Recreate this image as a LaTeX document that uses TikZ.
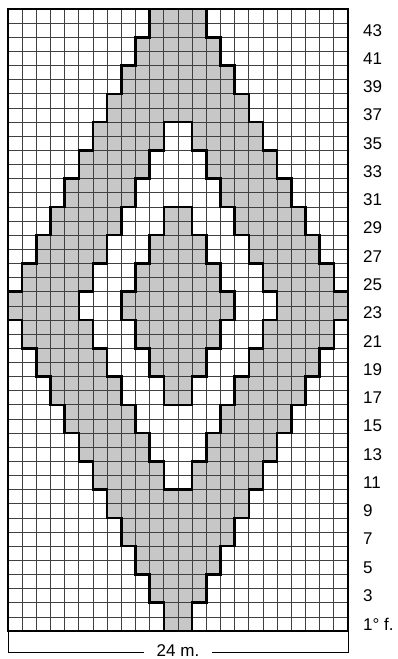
\documentclass[tikz,border=0pt]{standalone}
\usepackage{fontspec}
\setmainfont{Liberation Sans}
\begin{document}
\begin{tikzpicture}[x=14.1667pt,y=14.136pt,
  gridline/.style={draw=black!75,line width=0.7pt},
  outline/.style={draw=black,line width=2.6pt,line join=miter},
  greyfill/.style={fill=black!22},
  whitefill/.style={fill=white},
  rowlabel/.style={anchor=west,inner sep=0pt,font=\fontsize{17}{17}\selectfont},
  dimline/.style={draw=black,line width=0.9pt},
  dimtext/.style={inner xsep=13pt,inner ysep=0pt,font=\fontsize{17}{17}\selectfont}]
\useasboundingbox (-0.5647,-1.981) rectangle (27.459,44.637);
% outer diamond
\path[greyfill] (11,0) -- (13,0) -- (13,2) -- (14,2) -- (14,4) -- (15,4) -- (15,6) -- (16,6) -- (16,8) -- (17,8) -- (17,10) -- (18,10) -- (18,12) -- (19,12) -- (19,14) -- (20,14) -- (20,16) -- (21,16) -- (21,18) -- (22,18) -- (22,20) -- (23,20) -- (23,22) -- (24,22) -- (24,24)
 -- (23,24) -- (23,26) -- (22,26) -- (22,28) -- (21,28) -- (21,30) -- (20,30) -- (20,32) -- (19,32) -- (19,34) -- (18,34) -- (18,36) -- (17,36) -- (17,38) -- (16,38) -- (16,40) -- (15,40) -- (15,42) -- (14,42) -- (14,44)
 -- (10,44) -- (10,42) -- (9,42) -- (9,40) -- (8,40) -- (8,38) -- (7,38) -- (7,36) -- (6,36) -- (6,34) -- (5,34) -- (5,32) -- (4,32) -- (4,30) -- (3,30) -- (3,28) -- (2,28) -- (2,26) -- (1,26) -- (1,24) -- (0,24)
 -- (0,22) -- (1,22) -- (1,20) -- (2,20) -- (2,18) -- (3,18) -- (3,16) -- (4,16) -- (4,14) -- (5,14) -- (5,12) -- (6,12) -- (6,10) -- (7,10) -- (7,8) -- (8,8) -- (8,6) -- (9,6) -- (9,4) -- (10,4) -- (10,2) -- (11,2) -- cycle;
% white hole
\path[whitefill] (11,10) -- (13,10) -- (13,12) -- (14,12) -- (14,14) -- (15,14) -- (15,16) -- (16,16) -- (16,18) -- (17,18) -- (17,20) -- (18,20) -- (18,22) -- (19,22) -- (19,24) -- (18,24) -- (18,26) -- (17,26) -- (17,28) -- (16,28) -- (16,30) -- (15,30) -- (15,32) -- (14,32) -- (14,34) -- (13,34) -- (13,36) -- (11,36) -- (11,34) -- (10,34) -- (10,32) -- (9,32) -- (9,30) -- (8,30) -- (8,28) -- (7,28) -- (7,26) -- (6,26) -- (6,24) -- (5,24) -- (5,22) -- (6,22) -- (6,20) -- (7,20) -- (7,18) -- (8,18) -- (8,16) -- (9,16) -- (9,14) -- (10,14) -- (10,12) -- (11,12) -- cycle;
% inner diamond
\path[greyfill] (11,16) -- (13,16) -- (13,18) -- (14,18) -- (14,20) -- (15,20) -- (15,22) -- (16,22) -- (16,24) -- (15,24) -- (15,26) -- (14,26) -- (14,28) -- (13,28) -- (13,30) -- (11,30) -- (11,28) -- (10,28) -- (10,26) -- (9,26) -- (9,24) -- (8,24) -- (8,22) -- (9,22) -- (9,20) -- (10,20) -- (10,18) -- (11,18) -- cycle;
% grid
\foreach \i in {1,...,23} \draw[gridline] (\i,0) -- (\i,44);
\foreach \j in {1,...,43} \draw[gridline] (0,\j) -- (24,\j);
% frame
\draw[draw=black,line width=1.2pt] (0,0) rectangle (24,44);
% outlines
\draw[outline] (11,0) -- (13,0) -- (13,2) -- (14,2) -- (14,4) -- (15,4) -- (15,6) -- (16,6) -- (16,8) -- (17,8) -- (17,10) -- (18,10) -- (18,12) -- (19,12) -- (19,14) -- (20,14) -- (20,16) -- (21,16) -- (21,18) -- (22,18) -- (22,20) -- (23,20) -- (23,22) -- (24,22) -- (24,24)
 -- (23,24) -- (23,26) -- (22,26) -- (22,28) -- (21,28) -- (21,30) -- (20,30) -- (20,32) -- (19,32) -- (19,34) -- (18,34) -- (18,36) -- (17,36) -- (17,38) -- (16,38) -- (16,40) -- (15,40) -- (15,42) -- (14,42) -- (14,44)
 -- (10,44) -- (10,42) -- (9,42) -- (9,40) -- (8,40) -- (8,38) -- (7,38) -- (7,36) -- (6,36) -- (6,34) -- (5,34) -- (5,32) -- (4,32) -- (4,30) -- (3,30) -- (3,28) -- (2,28) -- (2,26) -- (1,26) -- (1,24) -- (0,24)
 -- (0,22) -- (1,22) -- (1,20) -- (2,20) -- (2,18) -- (3,18) -- (3,16) -- (4,16) -- (4,14) -- (5,14) -- (5,12) -- (6,12) -- (6,10) -- (7,10) -- (7,8) -- (8,8) -- (8,6) -- (9,6) -- (9,4) -- (10,4) -- (10,2) -- (11,2) -- cycle;
\draw[outline] (11,10) -- (13,10) -- (13,12) -- (14,12) -- (14,14) -- (15,14) -- (15,16) -- (16,16) -- (16,18) -- (17,18) -- (17,20) -- (18,20) -- (18,22) -- (19,22) -- (19,24) -- (18,24) -- (18,26) -- (17,26) -- (17,28) -- (16,28) -- (16,30) -- (15,30) -- (15,32) -- (14,32) -- (14,34) -- (13,34) -- (13,36) -- (11,36) -- (11,34) -- (10,34) -- (10,32) -- (9,32) -- (9,30) -- (8,30) -- (8,28) -- (7,28) -- (7,26) -- (6,26) -- (6,24) -- (5,24) -- (5,22) -- (6,22) -- (6,20) -- (7,20) -- (7,18) -- (8,18) -- (8,16) -- (9,16) -- (9,14) -- (10,14) -- (10,12) -- (11,12) -- cycle;
\draw[outline] (11,16) -- (13,16) -- (13,18) -- (14,18) -- (14,20) -- (15,20) -- (15,22) -- (16,22) -- (16,24) -- (15,24) -- (15,26) -- (14,26) -- (14,28) -- (13,28) -- (13,30) -- (11,30) -- (11,28) -- (10,28) -- (10,26) -- (9,26) -- (9,24) -- (8,24) -- (8,22) -- (9,22) -- (9,20) -- (10,20) -- (10,18) -- (11,18) -- cycle;
% row labels
\node[rowlabel] (r1) at (25.06,0.5) {1° f.};
\foreach \r in {3,5,...,43} \node[rowlabel] (r\r) at (25.06,\r-0.5) {\r};
% dimension
\coordinate (dl) at (0,-1.486);
\coordinate (dr) at (24,-1.486);
\coordinate (tl) at (0,0);
\coordinate (tr) at (24,0);
\node[dimtext] (dim) at (12,-1.40) {24 m.};
\draw[dimline] (tl) -- (dl) -- (dim.west |- dl);
\draw[dimline] (tr) -- (dr) -- (dim.east |- dr);
\end{tikzpicture}
\end{document}
